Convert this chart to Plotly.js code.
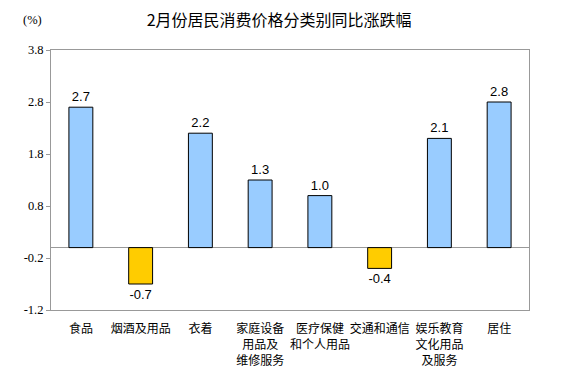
<!DOCTYPE html>
<html>
<head>
<meta charset="utf-8">
<script src="https://cdn.plot.ly/plotly-3.0.1.min.js"></script>
<style>html,body{margin:0;padding:0;background:#fff;}#chart{width:584px;height:373px;}</style>
</head>
<body>
<div id="chart"></div>
<script>
const categories = ['食品', '烟酒及用品', '衣着', '家庭设备<br>用品及<br>维修服务', '医疗保健<br>和个人用品', '交通和通信', '娱乐教育<br>文化用品<br>及服务', '居住'];
const values = [2.7, -0.7, 2.2, 1.3, 1.0, -0.4, 2.1, 2.8];
const yTicks = [-1.2, -0.2, 0.8, 1.8, 2.8, 3.8];
const chartTitle = '2月份居民消费价格分类别同比涨跌幅';
const unitLabel = '(%)';

const colors = values.map(v => v >= 0 ? '#99CCFF' : '#FFCC00');
const serif = 'Liberation Serif';

const trace = {
  type: 'bar',
  x: categories,
  y: values,
  width: 0.4,
  marker: {color: colors, line: {color: '#000000', width: 1}},
  text: values.map(v => v.toFixed(1)),
  textposition: 'outside',
  textfont: {family: 'Liberation Sans', size: 13, color: '#000'},
  cliponaxis: false,
  hoverinfo: 'none'
};

const layout = {
  width: 584, height: 373,
  margin: {l: 51, r: 55, t: 50, b: 63},
  paper_bgcolor: '#fff', plot_bgcolor: '#fff',
  showlegend: false,
  title: {text: chartTitle, x: 0.478, xanchor: 'center', y: 0.945, yanchor: 'middle',
          font: {family: 'Noto Sans CJK SC', size: 16, color: '#000'}},
  xaxis: {
    showline: true, linecolor: '#999', linewidth: 1, mirror: true,
    ticks: '', showgrid: false, zeroline: false,
    tickfont: {family: 'Noto Sans CJK SC', size: 12, color: '#000'},
    tickangle: 0, ticklabelstandoff: 8
  },
  yaxis: {
    range: [-1.2, 3.8], tickvals: yTicks, ticktext: yTicks.map(v => v.toFixed(1)),
    showline: true, linecolor: '#999', linewidth: 1, mirror: true,
    ticks: 'outside', ticklen: 4, tickcolor: '#999',
    showgrid: false, zeroline: true, zerolinecolor: '#999', zerolinewidth: 1,
    tickfont: {family: serif, size: 12.5, color: '#000'}
  },
  annotations: [{
    text: unitLabel, xref: 'paper', yref: 'paper', x: -0.015, y: 1.115,
    xanchor: 'right', yanchor: 'middle', showarrow: false,
    font: {family: serif, size: 12.5, color: '#000'}
  }]
};

Plotly.newPlot('chart', [trace], layout, {staticPlot: true, displayModeBar: false});
</script>
</body>
</html>
